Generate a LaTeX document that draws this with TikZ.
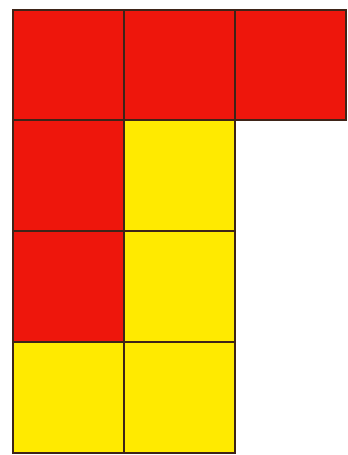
\documentclass[tikz,border=0pt]{standalone}
\definecolor{tilered}{RGB}{238,22,12}
\definecolor{tileyellow}{RGB}{255,234,0}
\definecolor{tileedge}{RGB}{62,36,24}
\tikzset{
  tile/.style={draw=tileedge,line width=0.45mm},
  redtile/.style={tile,fill=tilered},
  yellowtile/.style={tile,fill=tileyellow}
}
\begin{document}
\begin{tikzpicture}[x=0.25mm,y=-0.25mm]
  \useasboundingbox (0,0) rectangle (347,455);

  % Top row: three red tiles.
  \draw[redtile] (13,10) rectangle (124,120);
  \draw[redtile] (124,10) rectangle (235,120);
  \draw[redtile] (235,10) rectangle (346,120);

  % Left column below: red, red, yellow.
  \draw[redtile] (13,120) rectangle (124,231);
  \draw[redtile] (13,231) rectangle (124,342);
  \draw[yellowtile] (13,342) rectangle (124,453);

  % Middle column below: yellow tiles.
  \draw[yellowtile] (124,120) rectangle (235,231);
  \draw[yellowtile] (124,231) rectangle (235,342);
  \draw[yellowtile] (124,342) rectangle (235,453);
\end{tikzpicture}
\end{document}
